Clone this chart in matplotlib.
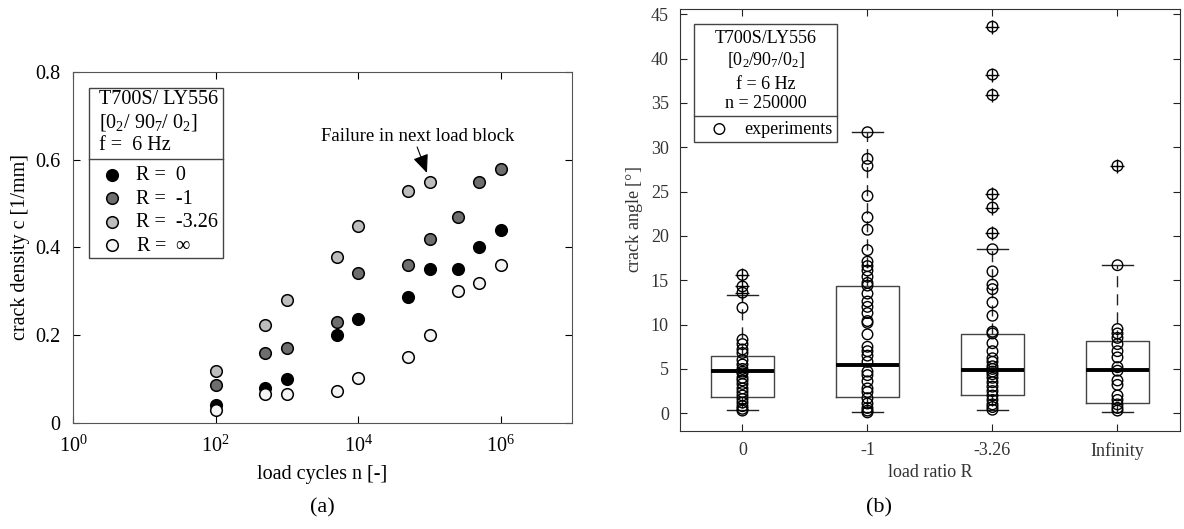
import numpy as np
import matplotlib
matplotlib.use("Agg")
import matplotlib.pyplot as plt
from matplotlib.patches import Rectangle
from matplotlib.ticker import FuncFormatter

plt.rcParams['font.family'] = ['Liberation Serif', 'DejaVu Serif']
plt.rcParams['mathtext.fontset'] = 'custom'
plt.rcParams['mathtext.rm'] = 'Liberation Serif'
plt.rcParams['mathtext.it'] = 'Liberation Serif:italic'

# (a) crack density vs load cycles
cycles = [1e2, 5e2, 1e3, 5e3, 1e4, 5e4, 1e5, 2.5e5, 5e5, 1e6]
dens_r0 = [0.04, 0.08, 0.10, 0.20, 0.238, 0.288, 0.35, 0.35, 0.40, 0.44]
dens_rm1 = [0.086, 0.159, 0.171, 0.23, 0.341, 0.359, 0.42, 0.47, 0.55, 0.579]
dens_rm326 = [0.118, 0.223, 0.28, 0.379, 0.45, 0.529, 0.549]
dens_rinf = [0.03, 0.065, 0.065, 0.074, 0.103, 0.151, 0.20, 0.30, 0.32, 0.359]
series_labels = ['R =  0', 'R =  -1', 'R =  -3.26', r'R =  $\infty$']
series_colors = ['#000000', '#6e6e6e', '#bdbdbd', '#f4f4f4']

# (b) crack angle box plots
ratio_labels = ['0', '-1', '-3.26', 'Infinity']
q1 = [1.84, 1.84, 2.07, 1.2]
q3 = [6.5, 14.3, 8.98, 8.16]
med = [4.74, 5.49, 4.92, 4.85]
whis_lo = [0.34, 0.15, 0.41, 0.19]
whis_hi = [13.3, 31.7, 18.5, 16.7]
outliers = [[15.6, 14.3, 13.6],
            [],
            [43.6, 38.2, 35.9, 24.7, 23.2, 20.3],
            [27.9]]
angles_r0 = [15.6, 14.3, 13.6, 11.9, 8.3, 7.8, 7.2, 6.8, 6.0, 5.5, 5.0, 4.7,
             4.5, 4.0, 3.7, 3.3, 2.8, 2.4, 2.0, 1.6, 1.2, 0.8, 0.5, 0.3]
angles_rm1 = [31.7, 28.7, 27.9, 24.5, 22.1, 20.7, 18.4, 17.1, 16.6, 16.1, 15.4,
              14.7, 14.4, 13.5, 12.6, 12.0, 11.3, 10.4, 10.2, 8.9, 7.5, 7.0,
              6.5, 5.8, 4.7, 4.3, 3.6, 2.8, 2.4, 1.7, 1.1, 0.6, 0.3, 0.1]
angles_rm326 = [43.6, 38.2, 35.9, 24.7, 23.2, 20.3, 18.5, 16.0, 14.5, 14.0,
                12.5, 11.0, 9.2, 9.0, 7.9, 7.0, 6.2, 5.8, 5.3, 5.0, 4.7, 4.4,
                4.0, 3.5, 3.0, 2.5, 2.0, 1.5, 1.0, 0.7, 0.4]
angles_rinf = [27.9, 16.7, 9.5, 9.0, 8.5, 7.8, 7.0, 6.3, 5.2, 4.8, 3.7, 3.2,
               2.0, 1.5, 1.0, 0.6, 0.3]

fig = plt.figure(figsize=(11.84, 5.29), dpi=100)
ax1 = fig.add_axes([0.0617, 0.2004, 0.4215, 0.6635])
ax2 = fig.add_axes([0.5743, 0.1853, 0.4223, 0.7977])

# ---- left panel ----
fs = 14.5
handles = []
for ys, c, lab in zip([dens_r0, dens_rm1, dens_rm326, dens_rinf], series_colors, series_labels):
    h = ax1.scatter(cycles[:len(ys)], ys, s=70, c=c, edgecolors='k', linewidths=1.1,
                    zorder=3, label=lab)
    handles.append(h)
ax1.set_xscale('log')
ax1.set_xlim(1, 1e7)
ax1.set_ylim(0, 0.8)
ax1.set_xticks([1, 1e2, 1e4, 1e6])
ax1.xaxis.set_minor_locator(matplotlib.ticker.NullLocator())
ax1.set_xticklabels([r'$10^0$', r'$10^2$', r'$10^4$', r'$10^6$'])
ax1.set_yticks([0, 0.2, 0.4, 0.6, 0.8])
ax1.yaxis.set_major_formatter(FuncFormatter(lambda v, p: '%g' % v))
ax1.tick_params(direction='in', top=True, right=True, labelsize=fs, pad=9, length=5)
ax1.set_xlabel('load cycles n [-]', fontsize=fs, labelpad=6)
ax1.set_ylabel('crack density c [1/mm]', fontsize=fs)
for sp in ax1.spines.values():
    sp.set_color('#555555')

ax1.add_patch(Rectangle((0.032, 0.470), 0.269, 0.484, transform=ax1.transAxes,
                        fill=True, facecolor='white', edgecolor='#444444', lw=1, zorder=4))
ax1.plot([0.032, 0.301], [0.752, 0.752], transform=ax1.transAxes, color='#444444', lw=1, zorder=5)
for y, t in zip([0.923, 0.857, 0.792],
                ['T700S/ LY556', r'[0$_2$/ 90$_7$/ 0$_2$]', 'f =  6 Hz']):
    ax1.text(0.052, y, t, transform=ax1.transAxes, fontsize=fs, va='center', ha='left', zorder=6)
leg = ax1.legend(handles=handles, loc='upper left', bbox_to_anchor=(0.045, 0.755),
                 frameon=False, fontsize=fs, handlelength=0.8, handletextpad=0.8,
                 labelspacing=0.22, borderaxespad=0)
leg.set_zorder(6)

ax1.text(6.9e4, 0.654, 'Failure in next load block', fontsize=13.5, ha='center', va='center')
ax1.annotate('', xy=(9.2e4, 0.570), xytext=(6.7e4, 0.629),
             arrowprops=dict(arrowstyle='-|>,head_length=0.7,head_width=0.3', color='k',
                             lw=0.8, shrinkA=0, shrinkB=0, mutation_scale=16))

fig.text(0.272, 0.04, '(a)', fontsize=16, ha='center', va='center')

# ---- right panel ----
tc = '#333333'
stats = []
for i in range(4):
    stats.append(dict(med=med[i], q1=q1[i], q3=q3[i], whislo=whis_lo[i],
                      whishi=whis_hi[i], fliers=outliers[i]))
positions = [1, 2, 3, 4]
ax2.bxp(stats, positions=positions, widths=0.5, capwidths=0.25,
        boxprops=dict(color='#444444', lw=1),
        medianprops=dict(color='k', lw=2.8),
        whiskerprops=dict(color='#222222', lw=1, linestyle=(0, (8, 5))),
        capprops=dict(color='#222222', lw=1),
        flierprops=dict(marker='+', markeredgecolor='k', markersize=10, markeredgewidth=1))
exp_handle = None
for pos, vals in zip(positions, [angles_r0, angles_rm1, angles_rm326, angles_rinf]):
    exp_handle = ax2.scatter([pos] * len(vals), vals, s=58, facecolors='none',
                             edgecolors='k', linewidths=1.0, zorder=3)
ax2.set_xlim(0.5, 4.5)
ax2.set_ylim(-2, 45.6)
ax2.set_yticks(np.arange(0, 46, 5))
ax2.set_xticks(positions)
ax2.set_xticklabels(ratio_labels)
ax2.tick_params(direction='in', top=True, right=True, labelsize=13, pad=8,
                length=5, colors='#222222', labelcolor=tc)
ax2.set_xlabel('load ratio R', fontsize=13, color=tc, labelpad=3)
ax2.set_ylabel(r'crack angle [$\degree$]', fontsize=13, color=tc)
for sp in ax2.spines.values():
    sp.set_color('#333333')

ax2.add_patch(Rectangle((0.028, 0.685), 0.286, 0.279, transform=ax2.transAxes,
                        facecolor='white', edgecolor='#444444', lw=1, zorder=4))
ax2.plot([0.028, 0.314], [0.746, 0.746], transform=ax2.transAxes, color='#444444', lw=1, zorder=5)
for y, t in zip([0.931, 0.879, 0.820, 0.775],
                ['T700S/LY556', r'[0$_2$/90$_7$/0$_2$]', 'f = 6 Hz', 'n = 250000']):
    ax2.text(0.171, y, t, transform=ax2.transAxes, fontsize=13, ha='center', va='center', zorder=6)
leg2 = ax2.legend([exp_handle], ['experiments'], loc='center left', bbox_to_anchor=(0.05, 0.715),
                  frameon=False, fontsize=13, handlelength=0.8, handletextpad=1.0, borderaxespad=0)
leg2.set_zorder(6)

fig.text(0.742, 0.04, '(b)', fontsize=16, ha='center', va='center')

fig.savefig('out.png', dpi=100)
